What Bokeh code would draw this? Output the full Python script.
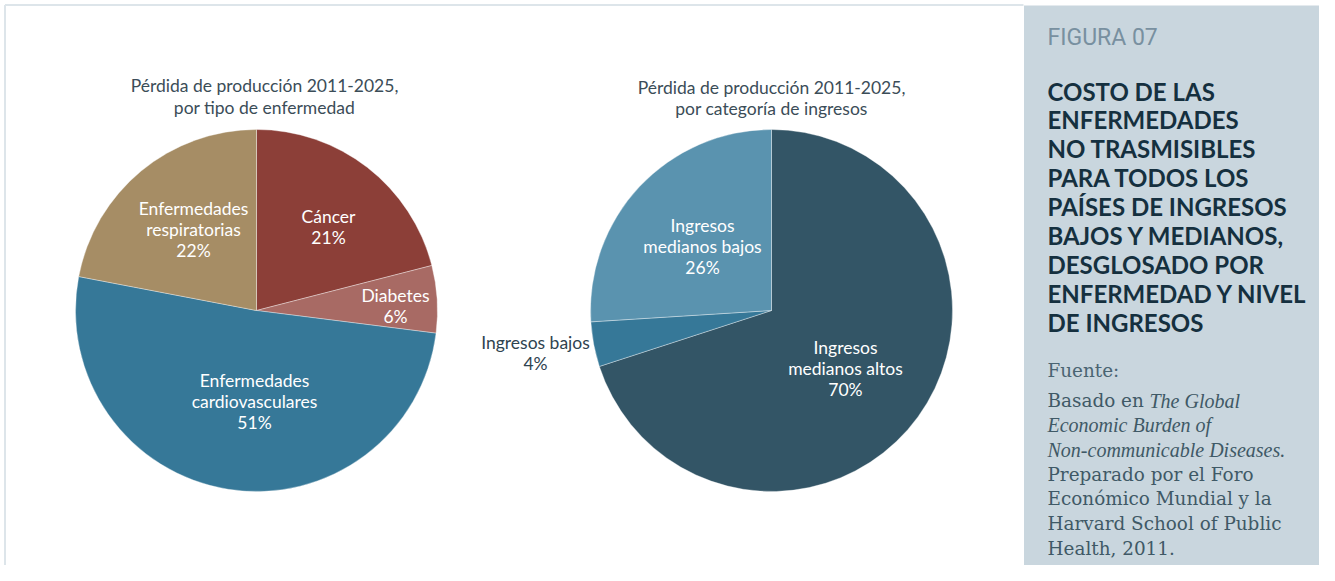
import numpy as np
from bokeh.plotting import figure
from bokeh.models import Range1d
from bokeh.core.properties import value
from bokeh.embed import file_html
from bokeh.resources import INLINE

# ---------------- data ----------------
disease_labels = ["Cáncer\n21%", "Diabetes\n6%", "Enfermedades\ncardiovasculares\n51%",
                  "Enfermedades\nrespiratorias\n22%"]
disease_share = [21, 6, 51, 22]
disease_colors = ["#8c3f38", "#a86a64", "#367898", "#a68d65"]

income_labels = ["Ingresos\nmedianos altos\n70%", "Ingresos bajos\n4%", "Ingresos\nmedianos bajos\n26%"]
income_share = [70, 4, 26]
income_colors = ["#335566", "#367898", "#5a93af"]
income_text_colors = ["#ffffff", "#2f4350", "#ffffff"]

left_title = "Pérdida de producción 2011-2025,\npor tipo de enfermedad"
right_title = "Pérdida de producción 2011-2025,\npor categoría de ingresos"

fig_label = "FIGURA 07"
headline = ["COSTO DE LAS", "ENFERMEDADES", "NO TRASMISIBLES", "PARA TODOS LOS",
            "PAÍSES DE INGRESOS", "BAJOS Y MEDIANOS,", "DESGLOSADO POR",
            "ENFERMEDAD Y NIVEL", "DE INGRESOS"]
source_head = "Fuente:"

# ---------------- layout (pixel coordinates from top-left) ----------------
FW, FH = 1319, 565


def Y(v):
    return FH - np.asarray(v, dtype=float)


R = 181
left_c = (256, 310)
right_c = (771, 310)
disease_label_pos = [(328, 226.5), (395, 305.5), (254, 401), (193, 229)]
income_label_pos = [(845, 368), (535, 352.5), (702, 246)]

p = figure(width=FW, height=FH, x_range=Range1d(0, FW), y_range=Range1d(0, FH),
           output_backend="svg", toolbar_location=None, min_border=0,
           x_axis_type=None, y_axis_type=None, outline_line_color=None,
           background_fill_color="white", border_fill_color="white")
p.grid.visible = False

# light frame of the chart panel
p.segment(x0=[4.5, 4.5], y0=[float(Y(4.5)), float(Y(4.5))], x1=[1023, 4.5], y1=[float(Y(4.5)), float(Y(600))],
          line_color="#dde5ea", line_width=2)


def pie(center, shares, colors):
    frac = np.cumsum([0] + list(shares)) / float(sum(shares))
    start = np.pi / 2 - 2 * np.pi * frac[:-1]
    end = np.pi / 2 - 2 * np.pi * frac[1:]
    p.wedge(x=center[0], y=float(Y(center[1])), radius=R, start_angle=start, end_angle=end,
            direction="clock", fill_color=colors, line_color="white", line_width=0.6,
            line_alpha=0.6)


pie(left_c, disease_share, disease_colors)
pie(right_c, income_share, income_colors)

lab_font = value("Lato")
LFS = 17.5
LLH = 21.0 / (LFS * 1.2)
p.text(x=[q[0] for q in disease_label_pos], y=Y([q[1] for q in disease_label_pos]),
       text=disease_labels, text_align="center", text_baseline="middle",
       text_font=lab_font, text_font_size=f"{LFS}px", text_color="white", text_line_height=LLH)
p.text(x=[q[0] for q in income_label_pos], y=Y([q[1] for q in income_label_pos]),
       text=income_labels, text_align="center", text_baseline="middle",
       text_font=lab_font, text_font_size=f"{LFS}px", text_color=income_text_colors,
       text_line_height=LLH)

# chart titles
p.text(x=[264, 771], y=Y([96, 97.5]), text=[left_title, right_title], text_align="center",
       text_baseline="middle", text_font=lab_font, text_font_size=f"{LFS}px",
       text_color="#3b4d58", text_line_height=21.5 / (LFS * 1.2))

# side panel
p.quad(left=1023.5, right=FW + 10, top=float(Y(5)), bottom=float(Y(600)),
       fill_color="#c9d6de", line_color=None)

p.text(x=1047, y=float(Y(37)), text=[fig_label], text_align="left", text_baseline="middle",
       text_font=value("Roboto"), text_font_size="23px", text_color="#7890a0")

p.text(x=[1047] * len(headline), y=Y(90.5 + 28.9 * np.arange(len(headline))), text=headline,
       text_align="left", text_baseline="middle", text_font=lab_font, text_font_size="24px",
       text_font_style="bold", text_color="#15303f")

serif = value("DejaVu Serif")
serif_it = value("Liberation Serif")
src_y = [370] + list(400 + 24.6 * np.arange(7))
p.text(x=1047, y=float(Y(src_y[0])), text=[source_head], text_align="left",
       text_baseline="middle", text_font=serif, text_font_size="18.4px", text_color="#4a6472")
normal_parts = [(1047, src_y[1], "Basado en"), (1047, src_y[4], "Preparado por el Foro"),
                (1047, src_y[5], "Económico Mundial y la"),
                (1047, src_y[6], "Harvard School of Public"), (1047, src_y[7], "Health, 2011.")]
italic_parts = [(1149, src_y[1], "The Global"), (1047, src_y[2], "Economic Burden of"),
                (1047, src_y[3], "Non-communicable Diseases.")]
p.text(x=[a for a, b, c in normal_parts], y=Y([b for a, b, c in normal_parts]),
       text=[c for a, b, c in normal_parts], text_align="left", text_baseline="middle",
       text_font=serif, text_font_size="18.4px", text_color="#3f5966")
p.text(x=[a for a, b, c in italic_parts], y=Y([b for a, b, c in italic_parts]),
       text=[c for a, b, c in italic_parts], text_align="left", text_baseline="middle",
       text_font=serif_it, text_font_size="20px", text_font_style="italic", text_color="#3f5966")

open("out.html", "w").write(file_html(p, INLINE))
